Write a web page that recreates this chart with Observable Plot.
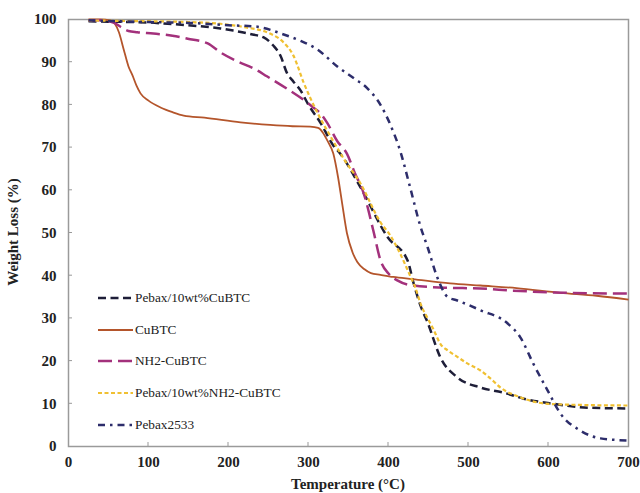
<!DOCTYPE html>
<html>
<head>
<meta charset="utf-8">
<script src="https://cdn.jsdelivr.net/npm/d3@7"></script>
<script src="https://cdn.jsdelivr.net/npm/@observablehq/plot@0.6"></script>
<style>
  html, body { margin: 0; padding: 0; background: #fff; }
  #wrap { position: relative; width: 640px; height: 493px; font-family: "Liberation Serif", "Times New Roman", serif; }
  #legend { position: absolute; left: 96px; top: 282px; font-size: 13.3px; color: #222; }
  #legend .row { display: flex; align-items: center; height: 31.8px; }
  #legend svg { margin-right: 1px; }
</style>
</head>
<body>
<div id="wrap"><div id="legend"></div></div>
<script>
// ---- data ----
const seriesNames = ["Pebax/10wt%CuBTC", "CuBTC", "NH2-CuBTC", "Pebax/10wt%NH2-CuBTC", "Pebax2533"];

const tPebaxCuBTC = [25,50,80,100,124,160,190,206,230,244,256,265,273,281,290,300,315,331,340,365,399,424,431,440,449,465,486,515,544,569,606,649,700];
const wPebaxCuBTC = [99.6,99.5,99.4,99.3,99,98.5,97.9,97.4,96.5,95.8,93.9,91.5,87.5,85.5,83.4,80,75.8,70.5,68.5,60.7,49,43.5,38.5,33,29,20.8,16.2,13.8,12.6,11.2,10,9.1,8.9];

const tCuBTC = [25,40,52,58,63,69,75,80,85,90,100,115,130,144,170,215,252,280,302,312,318,324,331,337,342,348,355,361,370,378,390,406,430,477,515,560,615,660,700];
const wCuBTC = [100,100,99.8,99,97,93,89,86.9,84.5,82.7,81,79.4,78.3,77.5,77,75.9,75.3,75,74.9,74.6,73.5,71.5,68.6,63,57,50,45.5,43.2,41.5,40.6,40.2,39.7,39.2,38.2,37.7,37.1,36,35.3,34.4];

const tNH2CuBTC = [25,40,56,65,75,86,106,130,149,174,190,211,232,248,273,298,306,315,323,336,348,358,369,381,390,400,411,431,470,515,556,620,700];
const wNH2CuBTC = [99.8,99.8,99.3,98.3,97.3,97,96.7,96.2,95.5,94.4,92.3,90.2,88.5,86.7,83.8,80.6,79.4,78,75.9,71.5,68.6,64,59.3,50.6,43.6,40.5,38.9,37.7,37.2,37,36.5,36,35.8];

const tPebaxNH2 = [25,50,100,150,190,220,252,269,281,294,311,327,344,365,390,402,415,427,433,441,449,456,465,474,486,499,515,530,540,565,599,650,700];
const wPebaxNH2 = [99.8,99.7,99.6,99.4,99,98.2,96.7,94.6,91.6,85.2,78.2,72.8,67.4,61.6,52.5,49.5,45,40,37.5,33,30,27.5,24,22.5,21,19.4,17.8,15.5,13.8,11.5,10,9.7,9.6];

const tPebax2533 = [25,60,100,150,206,232,269,290,311,336,357,373,390,402,415,427,440,449,461,474,486,515,549,565,581,599,615,640,665,700];
const wPebax2533 = [99.8,99.6,99.4,99.2,98.6,98.4,96.5,95,93,89,86.2,84,80,75.5,69,60.7,51.5,46.6,39.6,35,34.2,31.9,28.8,25.5,19.4,13.1,7.7,3.7,1.9,1.4];

const xTicks = [0,100,200,300,400,500,600,700];
const yTicks = [0,10,20,30,40,50,60,70,80,90,100];

// ---- styles ----
const colors = ["#1e1e38", "#b4552b", "#a3317c", "#f0c032", "#2d2d6b"];
const dashes = ["8,4.5", null, "14,6", "4,2.5", "7,5,2.5,5"];
const widths = [2.5, 1.8, 2.5, 2.2, 2.5];

const tempsList = [tPebaxCuBTC, tCuBTC, tNH2CuBTC, tPebaxNH2, tPebax2533];
const weightsList = [wPebaxCuBTC, wCuBTC, wNH2CuBTC, wPebaxNH2, wPebax2533];

const data = seriesNames.map((name, i) => tempsList[i].map((t, j) => ({series: name, T: t, W: weightsList[i][j]})));

const font = "'Liberation Serif', 'Times New Roman', serif";

const lineMarks = data.map((d, i) => Plot.line(d, {
  x: "T", y: "W", stroke: colors[i], strokeWidth: widths[i],
  strokeDasharray: dashes[i] || undefined, strokeLinecap: "butt",
  curve: "monotone-x"
}));

const chart = Plot.plot({
  width: 640, height: 493,
  marginLeft: 68, marginRight: 12, marginTop: 19, marginBottom: 47,
  style: {fontFamily: font, background: "#fff"},
  x: {type: "linear", domain: [0, 700]},
  y: {type: "linear", domain: [0, 100]},
  marks: [
    Plot.frame({stroke: "#9a9a9a", strokeWidth: 1.5}),
    Plot.axisX({ticks: xTicks, tickSize: 0, tickPadding: 10, fontSize: 15, fontWeight: "bold", label: null, fill: "#222"}),
    Plot.axisY({ticks: yTicks, tickSize: 0, tickPadding: 12, fontSize: 15, fontWeight: "bold", label: null, fill: "#222"}),
    ...lineMarks
  ]
});

const wrap = document.getElementById("wrap");
wrap.insertBefore(chart, wrap.firstChild);

// inward tick marks drawn with the plot's own scales
const svg = d3.select(chart);
const xs = chart.scale("x"), ys = chart.scale("y");
const tg = svg.append("g").attr("stroke", "#999").attr("stroke-width", 1);
xTicks.slice(1, -1).forEach(t => {
  tg.append("line").attr("x1", xs.apply(t)).attr("x2", xs.apply(t))
    .attr("y1", ys.apply(0)).attr("y2", ys.apply(0) - 4);
});
yTicks.slice(1, -1).forEach(t => {
  tg.append("line").attr("x1", xs.apply(0)).attr("x2", xs.apply(0) + 4)
    .attr("y1", ys.apply(t)).attr("y2", ys.apply(t));
});

// axis titles
svg.append("text")
  .attr("transform", "translate(18,232) rotate(-90)")
  .attr("text-anchor", "middle")
  .attr("font-family", font).attr("font-weight", "bold").attr("font-size", 15)
  .attr("fill", "#222")
  .text("Weight Loss (%)");
svg.append("text")
  .attr("x", 348).attr("y", 489)
  .attr("text-anchor", "middle")
  .attr("font-family", font).attr("font-weight", "bold").attr("font-size", 15)
  .attr("fill", "#222")
  .text("Temperature (°C)");

// legend
const legend = d3.select("#legend");
seriesNames.forEach((name, i) => {
  const row = legend.append("div").attr("class", "row");
  const s = row.append("svg").attr("width", 38).attr("height", 10);
  s.append("line").attr("x1", 2).attr("x2", 37).attr("y1", 5).attr("y2", 5)
    .attr("stroke", colors[i]).attr("stroke-width", widths[i])
    .attr("stroke-dasharray", dashes[i] || null);
  row.append("span").text(name);
});
</script>
</body>
</html>
